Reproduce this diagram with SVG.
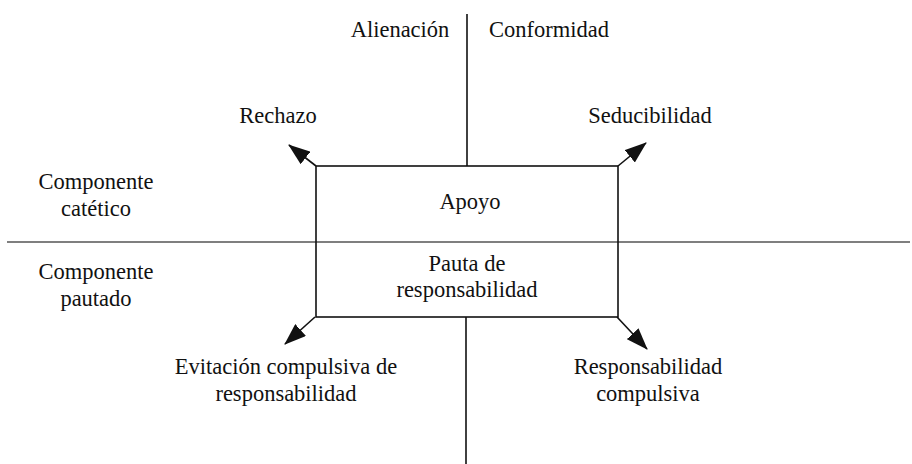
<svg xmlns="http://www.w3.org/2000/svg" width="912" height="464" viewBox="0 0 912 464">
<style>
text{font-family:"Liberation Serif","DejaVu Serif",serif;font-size:22.5px;fill:#111;text-anchor:middle}
.ln{stroke:#111;stroke-width:1.6;fill:none}
.hl{stroke:#555;stroke-width:1.3;fill:none}
</style>
<defs>
<marker id="ah2" viewBox="0 0 22 16" refX="21" refY="8" markerWidth="22" markerHeight="16" markerUnits="userSpaceOnUse" orient="auto">
<path d="M0,0 L22,8 L0,16 Z" fill="#111"/>
</marker>
</defs>
<g id="connectors">
<line class="ln" x1="467" y1="14" x2="467" y2="166"/>
<line class="ln" x1="466" y1="317" x2="466" y2="464"/>
<line class="hl" x1="7" y1="242" x2="910" y2="242"/>
<line class="ln" x1="316" y1="166" x2="289" y2="145" marker-end="url(#ah2)"/>
<line class="ln" x1="618" y1="166" x2="646" y2="143" marker-end="url(#ah2)"/>
<line class="ln" x1="315" y1="317" x2="285" y2="344" marker-end="url(#ah2)"/>
<line class="ln" x1="617" y1="317" x2="647" y2="349" marker-end="url(#ah2)"/>
</g>
<g id="box">
<rect class="ln" x="316" y="166" width="302" height="151"/>
<text x="470" y="209">Apoyo</text>
<text x="467" y="271">Pauta de</text>
<text x="467" y="297">responsabilidad</text>
</g>
<g id="alienacion"><text x="400" y="37">Alienación</text></g>
<g id="conformidad"><text x="549" y="37">Conformidad</text></g>
<g id="rechazo"><text x="278" y="123">Rechazo</text></g>
<g id="seducibilidad"><text x="650" y="123">Seducibilidad</text></g>
<g id="cat"><text x="96" y="189">Componente</text><text x="96" y="216">catético</text></g>
<g id="pau"><text x="96" y="279">Componente</text><text x="96" y="306">pautado</text></g>
<g id="evit"><text x="286" y="374">Evitación compulsiva de</text><text x="286" y="401">responsabilidad</text></g>
<g id="resp"><text x="648" y="374">Responsabilidad</text><text x="648" y="401">compulsiva</text></g>
</svg>
